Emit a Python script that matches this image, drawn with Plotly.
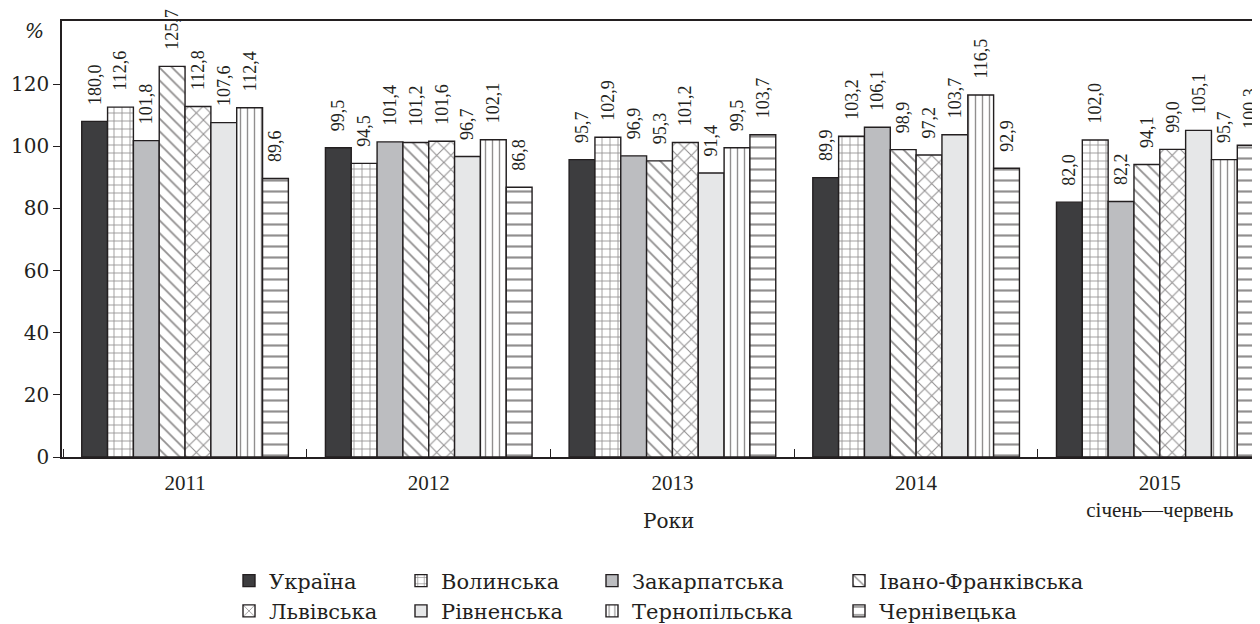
import plotly.graph_objects as go

years = ["2011", "2012", "2013", "2014", "2015<br>січень—червень"]

ukraine = [108.0, 99.5, 95.7, 89.9, 82.0]
volyn = [112.6, 94.5, 102.9, 103.2, 102.0]
zakarpattia = [101.8, 101.4, 96.9, 106.1, 82.2]
ivano_frankivsk = [125.7, 101.2, 95.3, 98.9, 94.1]
lviv = [112.8, 101.6, 101.2, 97.2, 99.0]
rivne = [107.6, 96.7, 91.4, 103.7, 105.1]
ternopil = [112.4, 102.1, 99.5, 116.5, 95.7]
chernivtsi = [89.6, 86.8, 103.7, 92.9, 100.3]

# label printed in the source differs from the drawn bar height
label_overrides = {("Україна", 0): "180,0"}

series = [
    ("Україна", ukraine),
    ("Волинська", volyn),
    ("Закарпатська", zakarpattia),
    ("Івано-Франківська", ivano_frankivsk),
    ("Львівська", lviv),
    ("Рівненська", rivne),
    ("Тернопільська", ternopil),
    ("Чернівецька", chernivtsi),
]

styles = {
    "Україна": dict(color="#3d3d3f", shape="", size=8),
    "Волинська": dict(color="white", shape="+", size=8),
    "Закарпатська": dict(color="#bcbdc0", shape="", size=8),
    "Івано-Франківська": dict(color="white", shape="\\", size=9),
    "Львівська": dict(color="white", shape="x", size=10),
    "Рівненська": dict(color="#e6e7e8", shape="", size=8),
    "Тернопільська": dict(color="white", shape="|", size=7),
    "Чернівецька": dict(color="white", shape="-", size=11),
}

FONT = "Liberation Serif"
FONT2 = "DejaVu Serif"
INK = "#231f20"

L, T, R, B = 54, 13, 0, 160
W, H = 1260, 624
pw = W - L - R
ph = H - T - B


def px_x(px):
    return (px - L) / pw


def px_y(py):
    return (H - B - py) / ph


fig = go.Figure()
legend_ids = ["legend", "legend2", "legend3", "legend4"]
for i, (name, vals) in enumerate(series):
    st = styles[name]
    labels = []
    for j, v in enumerate(vals):
        lab = label_overrides.get((name, j), f"{v:.1f}".replace(".", ","))
        labels.append("\u00a0\u00a0\u00a0" + lab)
    marker = dict(color=st["color"], line=dict(color="#231f20", width=1.4))
    if st["shape"]:
        marker["pattern"] = dict(shape=st["shape"], size=st["size"], solidity=0.2,
                                 fgcolor="#231f20", bgcolor=st["color"])
    fig.add_trace(go.Bar(
        x=years, y=vals, name=name, marker=marker,
        text=labels, textposition="outside", textangle=-90,
        textfont=dict(family=FONT, size=18, color=INK),
        constraintext="none", cliponaxis=False,
        legend=legend_ids[i % 4],
    ))

text_starts = [270, 442, 633, 880]
legend_layout = {}
for k, lid in enumerate(legend_ids):
    legend_layout[lid] = dict(
        x=px_x(text_starts[k] - 49), xanchor="left",
        y=px_y(571), yanchor="top",
        orientation="v",
        font=dict(family=FONT2, size=21, color=INK),
        bgcolor="rgba(0,0,0,0)", tracegroupgap=0,
        itemclick=False, itemdoubleclick=False,
    )

fig.update_layout(
    width=W, height=H,
    margin=dict(l=L, r=R, t=T, b=B, pad=0),
    paper_bgcolor="white", plot_bgcolor="white",
    barmode="group", bargap=0.152, bargroupgap=0,
    font=dict(family=FONT2, size=21, color=INK),
    showlegend=True,
    **legend_layout,
    xaxis=dict(
        type="category", range=[-0.505, 4.444],
        showline=True, linecolor="#231f20", linewidth=1.5, mirror=True,
        ticks="inside", tickson="boundaries", ticklen=8, tickcolor="#231f20",
        tickwidth=1.2, showgrid=False, zeroline=False, ticklabelstandoff=6,
        tickfont=dict(family=FONT, size=21, color=INK),
    ),
    yaxis=dict(
        range=[0, 140.3], tickvals=[0, 20, 40, 60, 80, 100, 120],
        showline=True, linecolor="#231f20", linewidth=1.5,
        ticks="outside", ticklen=7, tickcolor="#231f20", tickwidth=1.2,
        showgrid=False, zeroline=False,
        tickfont=dict(family=FONT2, size=20, color=INK),
    ),
    annotations=[
        dict(text="Роки", x=px_x(660), y=px_y(530), xref="paper", yref="paper",
             showarrow=False, xanchor="center", yanchor="middle",
             font=dict(family=FONT2, size=20, color=INK)),
        dict(text="<i>%</i>", x=px_x(26), y=px_y(23), xref="paper", yref="paper",
             showarrow=False, xanchor="center", yanchor="middle",
             font=dict(family=FONT2, size=20, color=INK)),
    ],
)

fig.write_html("out.html")
